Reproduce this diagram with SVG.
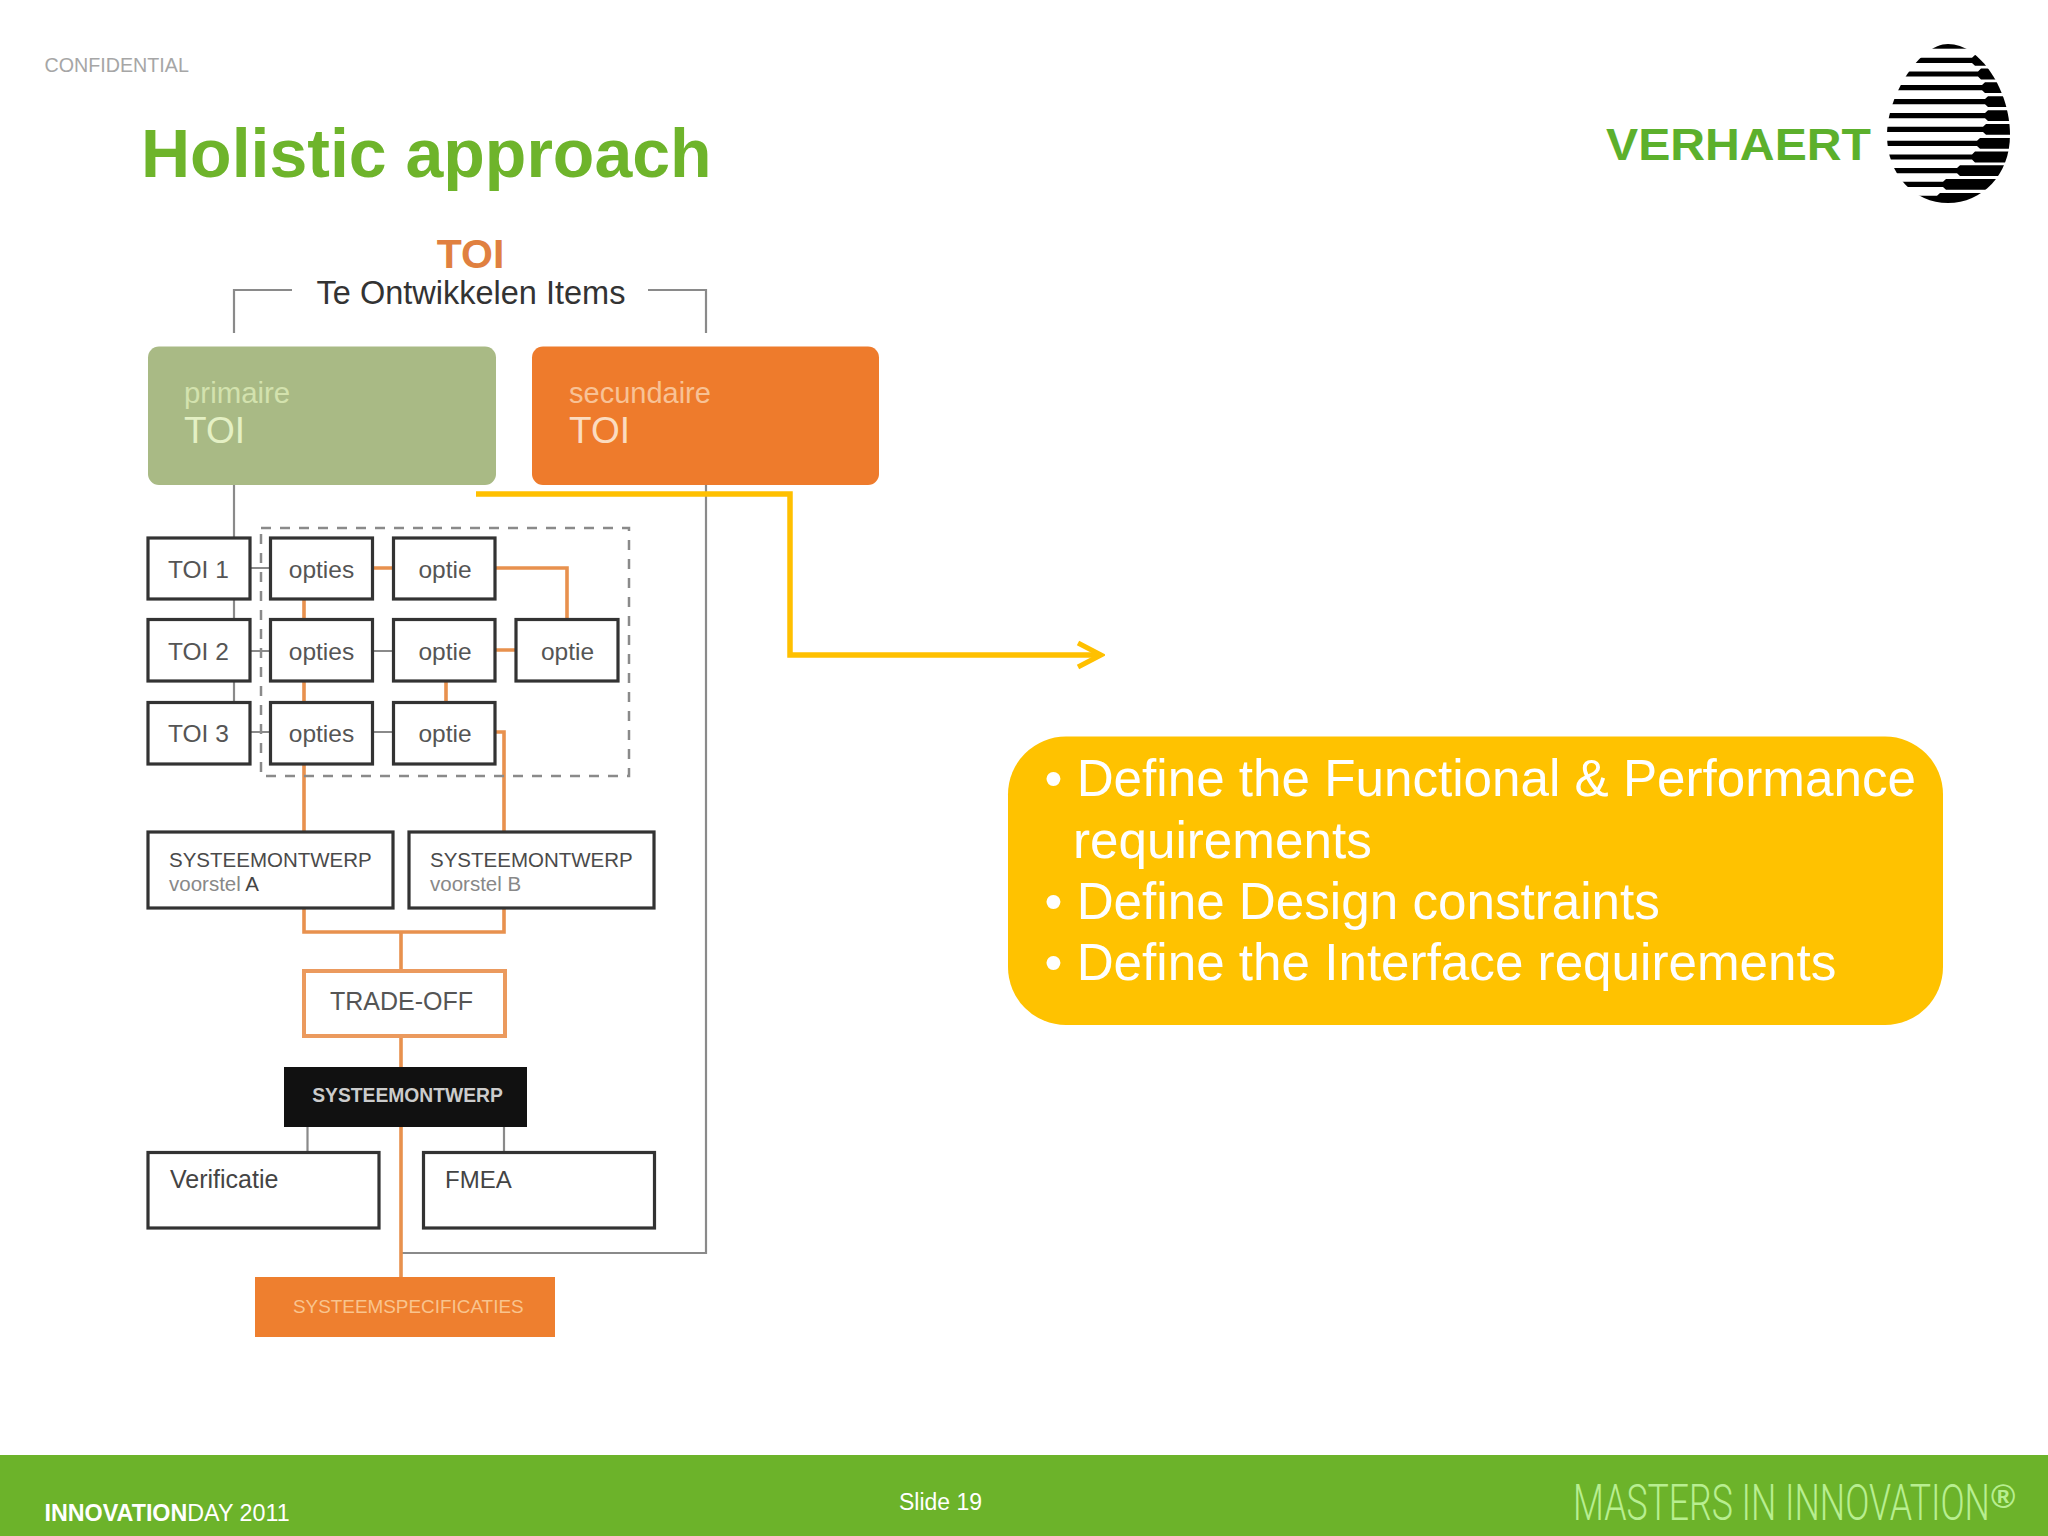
<svg xmlns="http://www.w3.org/2000/svg" width="2048" height="1536" viewBox="0 0 2048 1536">
<style>
text{font-family:"Liberation Sans",Arial,sans-serif}
.box{fill:#fff;stroke:#333;stroke-width:3.2}
.lab{fill:#555;font-size:24.500px}
.cap{fill:#4a4a4a;font-size:20.500px}
.sub{fill:#888;font-size:20.500px}
.g{fill:none;stroke:#8a8a8a;stroke-width:2.200}
.o{fill:none;stroke:#e8914e;stroke-width:3.600}
.body{fill:#fff;font-size:51.200px}
</style>
<defs>
<clipPath id="egg"><path d="M1948 44C1980 44 2010 90 2010 135C2010 175 1982 203 1948 203C1914 203 1887 175 1887 135C1887 95 1920 44 1948 44Z"/></clipPath>
<marker id="open" viewBox="0 0 30 30" refX="26" refY="15" markerWidth="30" markerHeight="30" markerUnits="userSpaceOnUse" orient="auto"><path d="M3 3L26 15L3 27" fill="none" stroke="#ffc000" stroke-width="5"/></marker>
</defs>
<rect width="2048" height="1536" fill="#fff"/>
<text x="44.500" y="72" font-size="19.700" fill="#a6a6a6">CONFIDENTIAL</text>
<text x="141" y="177" font-size="68" font-weight="700" fill="#6eb42b">Holistic approach</text>
<g id="logo">
<text x="1606" y="160" font-size="45" font-weight="700" fill="#5cb02c" textLength="265" lengthAdjust="spacingAndGlyphs">VERHAERT</text>
<g clip-path="url(#egg)" fill="#000">
<rect x="1880" y="44" width="135" height="4.700"/>
<path transform="translate(0,60.300)" d="M1880-2.600H1972l3-2.800H2015V5.400H1975l-3-2.800H1880Z"/>
<path transform="translate(0,74)" d="M1880-2.600H1978l3-2.800H2015V5.400H1981l-3-2.800H1880Z"/>
<path transform="translate(0,87.700)" d="M1880-2.600H1982l3-2.800H2015V5.400H1985l-3-2.800H1880Z"/>
<path transform="translate(0,101.700)" d="M1880-2.600H1985l3-2.800H2015V5.400H1988l-3-2.800H1880Z"/>
<path transform="translate(0,115.700)" d="M1880-2.600H1985l3-2.800H2015V5.400H1988l-3-2.800H1880Z"/>
<path transform="translate(0,129.300)" d="M1880-2.600H1983l3-2.800H2015V5.400H1986l-3-2.800H1880Z"/>
<path transform="translate(0,143.300)" d="M1880-2.600H1977l3-2.800H2015V5.400H1980l-3-2.800H1880Z"/>
<path transform="translate(0,157)" d="M1880-2.600H1972l3-2.800H2015V5.400H1975l-3-2.800H1880Z"/>
<path transform="translate(0,170.700)" d="M1880-2.600H1957l3-2.800H2015V5.400H1960l-3-2.800H1880Z"/>
<path transform="translate(0,184.300)" d="M1880-2.600H1943l3-2.800H2015V5.400H1946l-3-2.800H1880Z"/>
<path transform="translate(0,198.300)" d="M1880-2.600H1937l3-2.800H2015V6H1880Z"/>
</g>
</g>
<g id="connectors">
<path class="g" d="M234 333V290H292M648 290H706V333"/>
<path class="g" d="M234 485V702"/>
<path class="g" d="M706 485V1253H401"/>
<path class="g" d="M250 568H270M250 651H270M372 651H393M250 732H270M372 732H393M307.500 1127V1152M504 1127V1152"/>
<path class="o" d="M372 568H393M495 568H567V619M495 650H515M304 599V619M304 681V702M446 681V702M304 764V832M495 732H504V832M304 908V932H504V908M401 932V971M401 1036V1067M401 1127V1277"/>
<rect x="261" y="528" width="368" height="248" fill="none" stroke="#8a8a8a" stroke-width="2.500" stroke-dasharray="10 9"/>
</g>
<g id="toi-title"><text x="470.500" y="268" font-size="41" font-weight="700" fill="#e08040" text-anchor="middle">TOI</text>
<text x="471" y="304" font-size="32.500" fill="#333" text-anchor="middle">Te Ontwikkelen Items</text></g>
<g id="primaire"><rect x="148" y="346.500" width="348" height="138.500" rx="11" fill="#a9ba85"/><text x="184" y="402.500" font-size="29.400" fill="#d3e2ae">primaire</text><text x="184" y="443" font-size="37" fill="#e4f0c4">TOI</text></g>
<g id="secundaire"><rect x="532" y="346.500" width="347" height="138.500" rx="11" fill="#ee7b2c"/><text x="569" y="402.500" font-size="29" fill="#f8c296">secundaire</text><text x="569" y="443" font-size="37" fill="#fbdcc0">TOI</text></g>
<g id="toi1"><rect class="box" x="148" y="538" width="102" height="61"/><text class="lab" x="168" y="578">TOI 1</text></g>
<g id="toi2"><rect class="box" x="148" y="619.500" width="102" height="61.500"/><text class="lab" x="168" y="660">TOI 2</text></g>
<g id="toi3"><rect class="box" x="148" y="702.500" width="102" height="61.500"/><text class="lab" x="168" y="742">TOI 3</text></g>
<g id="opties1"><rect class="box" x="270.500" y="538" width="102" height="61"/><text class="lab" x="321.500" y="578" text-anchor="middle">opties</text></g>
<g id="opties2"><rect class="box" x="270.500" y="619.500" width="102" height="61.500"/><text class="lab" x="321.500" y="660" text-anchor="middle">opties</text></g>
<g id="opties3"><rect class="box" x="270.500" y="702.500" width="102" height="61.500"/><text class="lab" x="321.500" y="742" text-anchor="middle">opties</text></g>
<g id="optie1"><rect class="box" x="393.500" y="538" width="101.500" height="61"/><text class="lab" x="445" y="578" text-anchor="middle">optie</text></g>
<g id="optie2"><rect class="box" x="393.500" y="619.500" width="101.500" height="61.500"/><text class="lab" x="445" y="660" text-anchor="middle">optie</text></g>
<g id="optie3"><rect class="box" x="393.500" y="702.500" width="101.500" height="61.500"/><text class="lab" x="445" y="742" text-anchor="middle">optie</text></g>
<g id="optie4"><rect class="box" x="516" y="619.500" width="102" height="61.500"/><text class="lab" x="567.500" y="660" text-anchor="middle">optie</text></g>
<g id="systeem-a"><rect class="box" x="148" y="832" width="245" height="76"/><text class="cap" x="169" y="867">SYSTEEMONTWERP</text><text class="sub" x="169" y="891">voorstel <tspan fill="#444">A</tspan></text></g>
<g id="systeem-b"><rect class="box" x="409" y="832" width="245" height="76"/><text class="cap" x="430" y="867">SYSTEEMONTWERP</text><text class="sub" x="430" y="891">voorstel B</text></g>
<g id="trade-off"><rect x="304" y="971" width="201" height="65" fill="#fff" stroke="#eb9a5e" stroke-width="4"/><text x="401.500" y="1010" font-size="25" fill="#555" text-anchor="middle">TRADE-OFF</text></g>
<g id="systeemontwerp"><rect x="284" y="1067" width="243" height="60" fill="#111"/><text x="407.500" y="1102" font-size="19.300" font-weight="700" fill="#ccc" text-anchor="middle">SYSTEEMONTWERP</text></g>
<g id="verificatie"><rect class="box" x="148" y="1152.500" width="231" height="75.500"/><text x="170" y="1188" font-size="25" fill="#444">Verificatie</text></g>
<g id="fmea"><rect class="box" x="423.500" y="1152.500" width="231" height="75.500"/><text x="445" y="1188" font-size="24" fill="#444">FMEA</text></g>
<g id="specificaties"><rect x="255" y="1277" width="300" height="60" fill="#ee7f2f"/><text x="293" y="1312.500" font-size="18.900" fill="#f9c48e">SYSTEEMSPECIFICATIES</text></g>
<g id="callout-arrow"><path d="M476 494H790V655H1101" fill="none" stroke="#ffc000" stroke-width="5.500" marker-end="url(#open)"/></g>
<g id="callout"><rect x="1008" y="736.500" width="935" height="288.500" rx="58" fill="#ffc200"/>
<text class="body" x="1044.500" y="796">• Define the Functional &amp; Performance</text>
<text class="body" x="1073" y="857.500">requirements</text>
<text class="body" x="1044.500" y="918.500">• Define Design constraints</text>
<text class="body" x="1044.500" y="980">• Define the Interface requirements</text></g>
<g id="footer"><rect y="1455" width="2048" height="81" fill="#6cb32a"/>
<text x="44.500" y="1520.500" font-size="23.300" fill="#fff"><tspan font-weight="700">INNOVATION</tspan>DAY 2011</text>
<text x="899" y="1510" font-size="23" fill="#fff">Slide 19</text>
<text transform="translate(1573,1520) scale(.713,1)" font-size="50" fill="#b8ee90" style="font-family:Roboto,'Liberation Sans',sans-serif;font-weight:300">MASTERS IN INNOVATION</text>
<text x="1991" y="1508" font-size="33" font-weight="700" fill="#b8ee90">®</text></g>
</svg>
